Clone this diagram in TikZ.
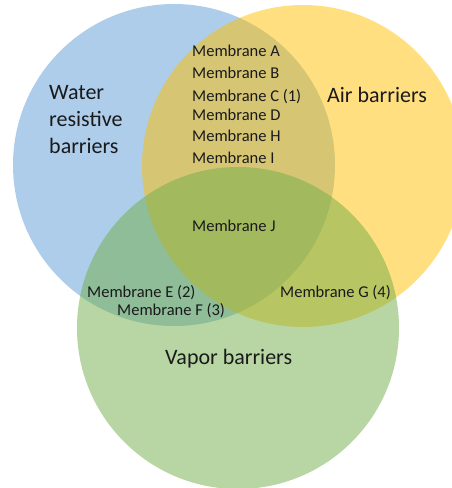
\documentclass[tikz,border=0pt]{standalone}
\usepackage{fontspec}
\setmainfont{Carlito}
\usetikzlibrary{positioning}

\definecolor{wrbBlue}{HTML}{5B9BD5}
\definecolor{airYellow}{HTML}{FFC000}
\definecolor{vapGreen}{HTML}{70AD47}
\definecolor{labelInk}{HTML}{1A1A1A}

\tikzset{
  setdisc/.style={fill opacity=0.5, draw=none},
  member/.style={inner sep=0pt, anchor=west, text=labelInk, font=\fontsize{16.5}{18}\selectfont},
  setname/.style={inner sep=0pt, anchor=west, align=left, text=labelInk, font=\fontsize{22}{27}\selectfont}
}

\begin{document}
\begin{tikzpicture}[x=1pt,y=-1pt]
\clip (0,0) rectangle (452,488);
\coordinate (W) at (174,165);
\coordinate (A) at (303,166);
\coordinate (V) at (238,328);
\fill[setdisc, wrbBlue] (W) circle (161pt); % Water resistive
\fill[setdisc, airYellow] (A) circle (161pt); % Air
\fill[setdisc, vapGreen] (V) circle (161pt); % Vapor
%% Set names
\node[setname] (wrb) at (49,120) {Water\\resistive\\barriers};
\node[setname] (air) at (327,95) {Air barriers};
\node[setname] (vap) at (165,359) {Vapor barriers};
%% Members
\node[member] (mA) at (192,51) {Membrane A};
\node[member] (mB) at (192,73) {Membrane B};
\node[member] (mC) at (192,97) {Membrane C (1)};
\node[member] (mD) at (192,115) {Membrane D};
\node[member] (mH) at (192,136) {Membrane H};
\node[member] (mI) at (192,158) {Membrane I};
\node[member] (mJ) at (192,226) {Membrane J};
\node[member] (mE) at (87,293) {Membrane E (2)};
\node[member] (mF) at (117,311) {Membrane F (3)};
\node[member] (mG) at (280,293) {Membrane G (4)};
\end{tikzpicture}
\end{document}
